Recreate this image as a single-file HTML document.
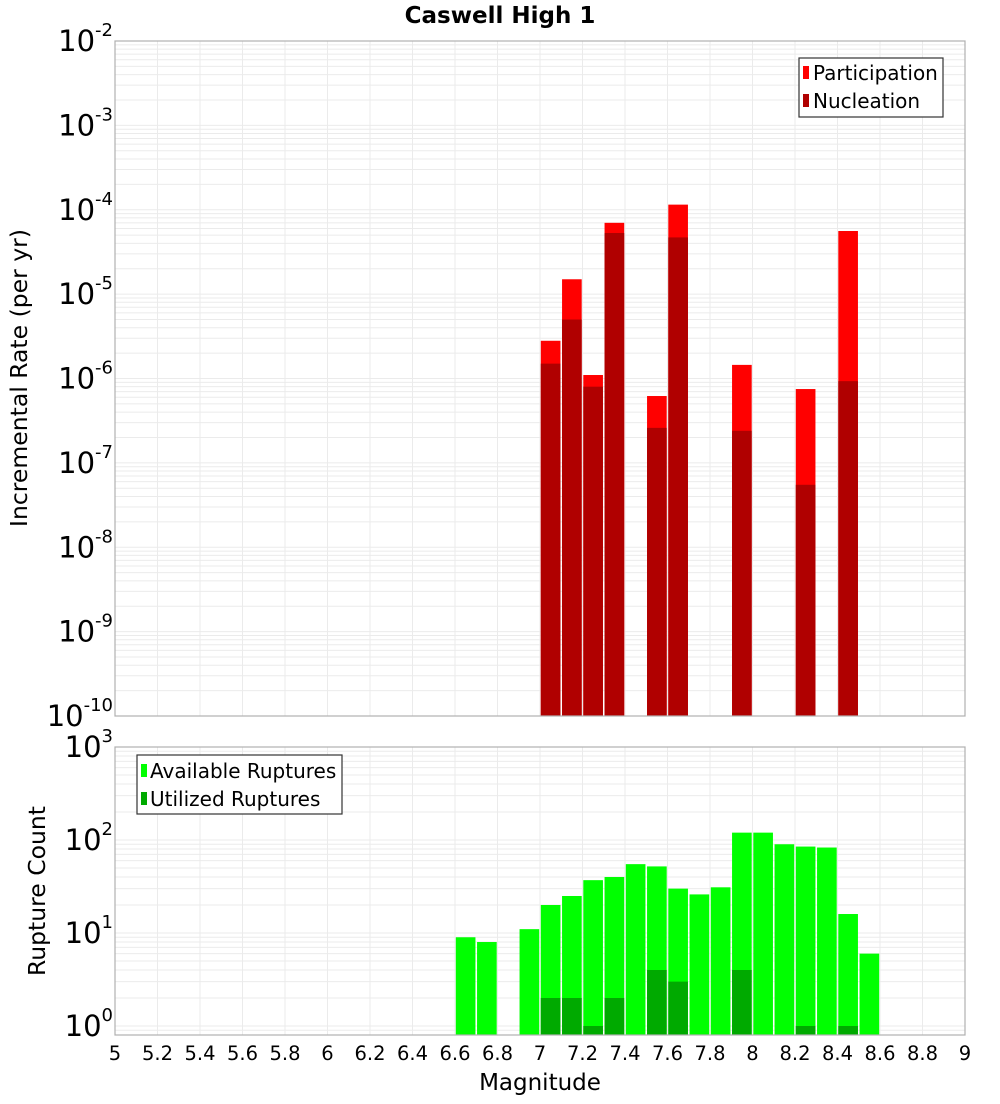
<!DOCTYPE html>
<html><head><meta charset="utf-8"><style>
body{margin:0;background:#fff;font-family:"DejaVu Sans","Liberation Sans",sans-serif}
svg text{font-family:"DejaVu Sans","Liberation Sans",sans-serif}
</style></head><body>
<svg id="c" width="1000" height="1100" xmlns="http://www.w3.org/2000/svg">
<text x="500" y="23" text-anchor="middle" font-size="23" font-weight="bold">Caswell High 1</text>
<g id="gtop"></g>
<g id="gbot"></g>
<text transform="translate(27,378) rotate(-90)" text-anchor="middle" font-size="23.5">Incremental Rate (per yr)</text>
<text transform="translate(45,891) rotate(-90)" text-anchor="middle" font-size="23.5">Rupture Count</text>
<text x="540" y="1090" text-anchor="middle" font-size="23">Magnitude</text>
<g>
<rect x="799" y="58" width="144" height="59" fill="#fff" stroke="#333" stroke-width="1.2"/>
<rect x="803" y="66" width="6" height="13" fill="#ff0000"/>
<text x="813" y="80" font-size="20">Participation</text>
<rect x="803" y="94" width="6" height="13" fill="#b00000"/>
<text x="813" y="108" font-size="20">Nucleation</text>
</g>
<g>
<rect x="137" y="755" width="205" height="59" fill="#fff" stroke="#333" stroke-width="1.2"/>
<rect x="141" y="764" width="6" height="13" fill="#00ff00"/>
<text x="150" y="778" font-size="20">Available Ruptures</text>
<rect x="141" y="792" width="6" height="13" fill="#00aa00"/>
<text x="150" y="806" font-size="20">Utilized Ruptures</text>
</g>
</svg>
<script>
const rateMags=[7.05,7.15,7.25,7.35,7.55,7.65,7.95,8.25,8.45];
const participation=[2.8e-6,1.5e-5,1.1e-6,7e-5,6.2e-7,1.15e-4,1.45e-6,7.5e-7,5.6e-5];
const nucleation=[1.5e-6,5e-6,8e-7,5.3e-5,2.6e-7,4.7e-5,2.4e-7,5.5e-8,9.3e-7];
const countMags=[6.65,6.75,6.95,7.05,7.15,7.25,7.35,7.45,7.55,7.65,7.75,7.85,7.95,8.05,8.15,8.25,8.35,8.45,8.55];
const available=[9,8,11,20,25,37,40,55,52,30,26,31,120,120,90,85,83,16,6];
const utilMags=[7.05,7.15,7.25,7.35,7.55,7.65,7.95,8.25,8.45];
const utilized=[2,2,1,2,4,3,4,1,1];
const xTicks=[5,5.2,5.4,5.6,5.8,6,6.2,6.4,6.6,6.8,7,7.2,7.4,7.6,7.8,8,8.2,8.4,8.6,8.8,9];
const rateExps=[-2,-3,-4,-5,-6,-7,-8,-9,-10];
const countExps=[3,2,1,0];

const NS='http://www.w3.org/2000/svg';
const L=115,R=965;
const x=m=>L+(m-5)/4*(R-L);
const T1=41,B1=716;
const y1=v=>T1+(-2-Math.log10(v))*(B1-T1)/8;
const T2=747,B2=1035,D2=93;
const y2=v=>T2+(3-Math.log10(v))*D2;
function el(p,tag,a){const e=document.createElementNS(NS,tag);for(const k in a)e.setAttribute(k,a[k]);p.appendChild(e);return e;}
const gTop=document.getElementById('gtop'),gBot=document.getElementById('gbot');
const svg=document.getElementById('c');

function grid(g,T,B,yf,eLo,eHi){
  for(let e=eLo;e<eHi;e++)for(let k=1;k<10;k++){const yy=yf(k*Math.pow(10,e));if(yy>=T&&yy<=B){const l=el(g,'line',{x1:L,x2:R,y1:yy,y2:yy,stroke:'#ebebeb','stroke-width':1});

}}
  xTicks.forEach(t=>{const l=el(g,'line',{x1:x(t),x2:x(t),y1:T,y2:B,stroke:'#ebebeb','stroke-width':1});

});
}
grid(gTop,T1,B1,y1,-10,-2);
grid(gBot,T2,B2,y2,-1,3);

function bar(g,m,v,base,yf,fill,name){
  const yt=yf(v);const r=el(g,'rect',{x:x(m-0.05)+0.8,y:yt,width:x(5.1)-L-1.6,height:base-yt,fill:fill});
  
  
}
rateMags.forEach((m,i)=>{bar(gTop,m,participation[i],B1,y1,'#ff0000','participation-bar');});
rateMags.forEach((m,i)=>{bar(gTop,m,nucleation[i],B1,y1,'#b00000','nucleation-bar');});
countMags.forEach((m,i)=>{bar(gBot,m,available[i],B2,y2,'#00ff00','available-bar');});
utilMags.forEach((m,i)=>{bar(gBot,m,utilized[i],B2,y2,'#00aa00','utilized-bar');});

el(gTop,'rect',{x:L,y:T1,width:R-L,height:B1-T1,fill:'none',stroke:'#b0b0b0','stroke-width':1.2});
el(gBot,'rect',{x:L,y:T2,width:R-L,height:B2-T2,fill:'none',stroke:'#b0b0b0','stroke-width':1.2});

function ylab(yy,e,name){
  const t=el(svg,'text',{x:113,y:yy+10,'text-anchor':'end','font-size':29});
  
  
  t.textContent='10';
  const s=el(t,'tspan',{dy:-15,'font-size':18});s.textContent=String(e);
}
rateExps.forEach(e=>ylab(y1(Math.pow(10,e)),e,'rate-tick-label'));
countExps.forEach(e=>ylab(y2(Math.pow(10,e)),e,'count-tick-label'));
xTicks.forEach(t=>{const tx=el(svg,'text',{x:x(t),y:1060,'text-anchor':'middle','font-size':19.5});


tx.textContent=String(t);});
</script>
</body></html>
